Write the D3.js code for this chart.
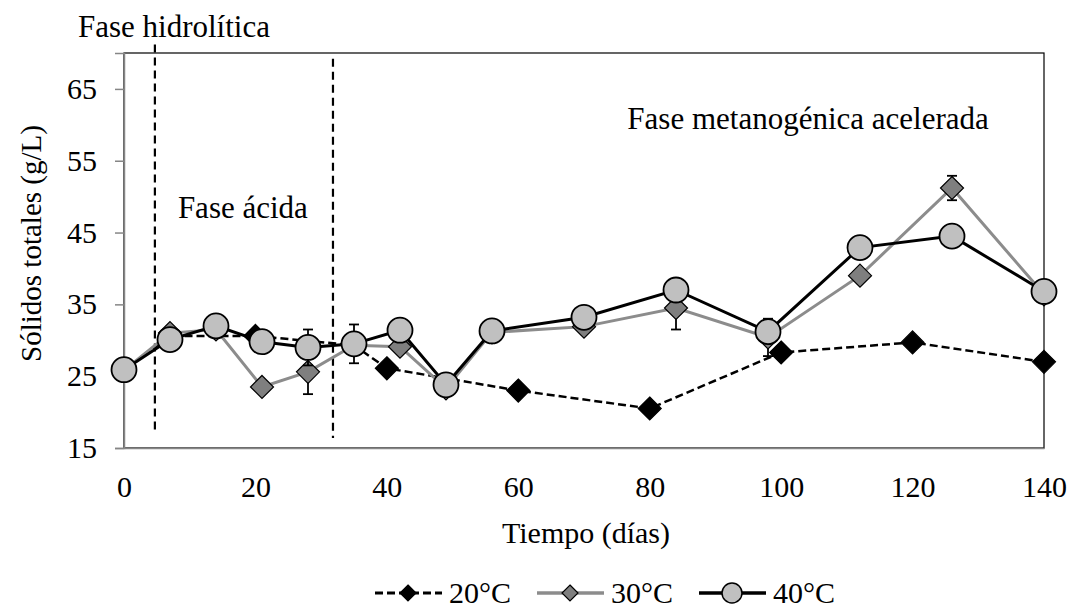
<!DOCTYPE html>
<html>
<head>
<meta charset="utf-8">
<script src="https://cdn.jsdelivr.net/npm/d3@7"></script>
<style>
  body { margin: 0; background: #fff; }
  text { font-family: "Liberation Serif", "Times New Roman", serif; fill: #000; }
</style>
</head>
<body>
<div id="chart"></div>
<script>
// sampling days (30 and 40 °C) and values, g/L
const days = [0, 7, 14, 21, 28, 35, 42, 49, 56, 70, 84, 98, 112, 126, 140];
const t30 = [25.8, 31.0, 31.5, 23.5, 25.6, 29.3, 29.1, 23.3, 31.1, 31.9, 34.5, 30.4, 39.0, 51.2, 36.4];
const err30 = [0, 0, 0, 0, 3.1, 0, 0, 0, 0, 0, 3.0, 2.6, 0, 1.7, 0];
const t40 = [25.9, 30.1, 32.0, 29.8, 29.0, 29.5, 31.4, 23.8, 31.3, 33.2, 37.0, 31.2, 42.9, 44.5, 36.8];
const err40 = [0, 0, 0, 0, 2.5, 2.7, 0, 0, 0, 0, 0, 0, 0, 0, 0];

// 20 °C was sampled on other days
const days20 = [0, 7, 20, 35, 40, 60, 80, 100, 120, 140];
const t20 = [25.8, 30.6, 30.6, 29.3, 26.1, 23.0, 20.5, 28.3, 29.7, 27.0];

const yTicks = [15, 25, 35, 45, 55, 65];
const xTicks = [0, 20, 40, 60, 80, 100, 120, 140];

// phase boundaries (day) and how far each dashed line runs (g/L)
const phaseDays = [4.7, 31.8];
const phaseTop = [71.2, 69.2];
const phaseBottom = [17.2, 16.4];

// phase labels, placed in data units
const noteText = ["Fase hidrolítica", "Fase ácida", "Fase metanogénica acelerada"];
const noteDay = [-7.0, 8.2, 76.6];
const noteVal = [72.2, 47.0, 59.4];

const width = 1069, height = 608;
const margin = {top: 53, right: 25, bottom: 160, left: 124};

const svg = d3.select("#chart").append("svg")
    .attr("width", width)
    .attr("height", height);

const x = d3.scaleLinear().domain([0, 140]).range([margin.left, width - margin.right]);
const y = d3.scaleLinear().domain([15, 70]).range([height - margin.bottom, margin.top]);

// plot frame: black top/right, gray axes
svg.append("rect")
    .attr("x", x(0)).attr("y", y(70))
    .attr("width", x(140) - x(0)).attr("height", y(15) - y(70))
    .attr("fill", "none").attr("stroke", "#000").attr("stroke-width", 1.2);

const yAxis = svg.append("g")
    .attr("transform", `translate(${x(0)},0)`)
    .call(d3.axisLeft(y).tickValues(yTicks).tickSize(9).tickPadding(18));
yAxis.select(".domain").attr("stroke", "#868686").attr("stroke-width", 1.5);
yAxis.selectAll(".tick line").attr("stroke", "#868686").attr("stroke-width", 1.5);
yAxis.selectAll("text").attr("font-size", 30);

const xAxis = svg.append("g")
    .attr("transform", `translate(0,${y(15)})`)
    .call(d3.axisBottom(x).tickValues(xTicks).tickSize(0).tickPadding(28));
xAxis.select(".domain").attr("stroke", "#868686").attr("stroke-width", 1.5);
xAxis.selectAll("text").attr("font-size", 30);

// axis titles
svg.append("text")
    .attr("transform", `translate(41,${(y(15) + y(70)) / 2 - 7}) rotate(-90)`)
    .attr("text-anchor", "middle")
    .attr("font-size", 29)
    .text("Sólidos totales  (g/L)");

svg.append("text")
    .attr("x", (x(0) + x(140)) / 2 + 2)
    .attr("y", 543)
    .attr("text-anchor", "middle")
    .attr("font-size", 30)
    .text("Tiempo (días)");

// phase lines
svg.selectAll(".phase")
    .data(phaseDays)
    .enter()
    .append("line")
    .attr("class", "phase")
    .attr("x1", d => x(d)).attr("x2", d => x(d))
    .attr("y1", (d, i) => y(phaseTop[i]))
    .attr("y2", (d, i) => y(phaseBottom[i]))
    .attr("stroke", "#000")
    .attr("stroke-width", 2.2)
    .attr("stroke-dasharray", "8,5");

svg.selectAll(".note")
    .data(noteText)
    .enter()
    .append("text")
    .attr("class", "note")
    .attr("x", (d, i) => x(noteDay[i]))
    .attr("y", (d, i) => y(noteVal[i]))
    .attr("font-size", 31)
    .text(d => d);

function diamond(h) {
    return `M0,${-h}L${h},0L0,${h}L${-h},0Z`;
}

const series = [
    {xs: days20, ys: t20, errs: null, line: "#000", lw: 2.5, dash: "8,4",
     shape: "diamond", fill: "#000", name: "20°C"},
    {xs: days, ys: t30, errs: err30, line: "#8c8c8c", lw: 3, dash: null,
     shape: "diamond", fill: "#7f7f7f", name: "30°C"},
    {xs: days, ys: t40, errs: err40, line: "#000", lw: 3, dash: null,
     shape: "circle", fill: "#c0c0c0", name: "40°C"}
];

const lineGen = d3.line().x(d => x(d[0])).y(d => y(d[1]));

// lines first, then error bars and markers
series.forEach(s => {
    const pts = s.xs.map((d, i) => [d, s.ys[i]]);
    svg.append("path")
        .datum(pts)
        .attr("d", lineGen)
        .attr("fill", "none")
        .attr("stroke", s.line)
        .attr("stroke-width", s.lw)
        .attr("stroke-dasharray", s.dash);
});

series.forEach(s => {
    if (s.errs) {
        const bars = s.xs.map((d, i) => ({d: d, v: s.ys[i], e: s.errs[i]})).filter(b => b.e > 0);
        const g = svg.append("g").attr("stroke", "#000").attr("stroke-width", 1.8);
        bars.forEach(b => {
            g.append("line").attr("x1", x(b.d)).attr("x2", x(b.d))
                .attr("y1", y(b.v - b.e)).attr("y2", y(b.v + b.e));
            [b.v - b.e, b.v + b.e].forEach(v => {
                g.append("line").attr("x1", x(b.d) - 5).attr("x2", x(b.d) + 5)
                    .attr("y1", y(v)).attr("y2", y(v));
            });
        });
    }
    const pts = s.xs.map((d, i) => [d, s.ys[i]]);
    if (s.shape === "circle") {
        svg.selectAll(null)
            .data(pts)
            .enter()
            .append("circle")
            .attr("cx", d => x(d[0]))
            .attr("cy", d => y(d[1]))
            .attr("r", 12.5)
            .attr("fill", s.fill)
            .attr("stroke", "#000")
            .attr("stroke-width", 1.8);
    } else {
        svg.selectAll(null)
            .data(pts)
            .enter()
            .append("path")
            .attr("transform", d => `translate(${x(d[0])},${y(d[1])})`)
            .attr("d", diamond(11.5))
            .attr("fill", s.fill)
            .attr("stroke", "#000")
            .attr("stroke-width", 1.2);
    }
});

// legend
const legX = [375, 537, 699];
const legend = svg.append("g").attr("transform", "translate(0,593)");
series.forEach((s, i) => {
    const g = legend.append("g").attr("transform", `translate(${legX[i]},0)`);
    g.append("line")
        .attr("x1", 0).attr("x2", 67)
        .attr("stroke", s.line)
        .attr("stroke-width", s.lw + 0.5)
        .attr("stroke-dasharray", s.dash);
    if (s.shape === "circle") {
        g.append("circle").attr("cx", 33).attr("r", 10)
            .attr("fill", s.fill).attr("stroke", "#000").attr("stroke-width", 1.5);
    } else {
        g.append("path").attr("transform", "translate(33,0)")
            .attr("d", diamond(8))
            .attr("fill", s.fill).attr("stroke", "#000").attr("stroke-width", 1.2);
    }
    g.append("text")
        .attr("x", 74)
        .attr("y", 10)
        .attr("font-size", 30)
        .text(s.name);
});
</script>
</body>
</html>
